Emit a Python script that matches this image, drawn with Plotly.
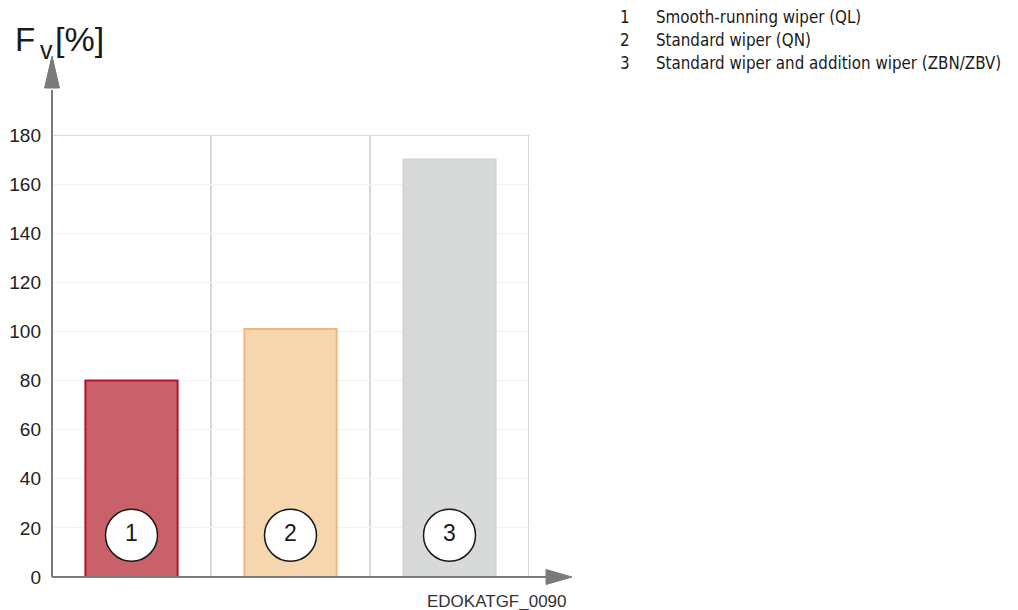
import plotly.graph_objects as go

# ---- data ----
categories = ["1", "2", "3"]
values = [80, 101, 170]
legend_numbers = ["1", "2", "3"]
legend_texts = [
    "Smooth-running wiper (QL)",
    "Standard wiper (QN)",
    "Standard wiper and addition wiper (ZBN/ZBV)",
]
y_ticks = [0, 20, 40, 60, 80, 100, 120, 140, 160, 180]

# ---- styles ----
fill_colors = ["#c9616a", "#f6d6ae", "#d8d9d9"]
line_colors = ["#b5122e", "#f0b878", "#d2d3d3"]
x_pos = list(range(len(categories)))
LABEL_Y = 17

OFF = 8  # page body margin
W, H = 1018 - OFF, 610 - OFF
# reference pixel positions of the plot area
RL, RR, RT, RB = 52, 529, 135, 577
L, T = RL - OFF, RT - OFF
R = W - (RR - OFF)
B = H - (RB - OFF)
PW = RR - RL
PH = RB - RT


def px(x):
    return (x - RL) / PW


def py(y):
    return (RB - y) / PH


fig = go.Figure()

fig.add_trace(go.Bar(
    x=x_pos, y=values, width=0.58,
    marker=dict(color=fill_colors, line=dict(color=line_colors, width=2)),
    hoverinfo="skip",
))

fig.add_trace(go.Scatter(
    x=x_pos, y=[LABEL_Y] * len(x_pos), mode="markers+text",
    text=categories, textposition="middle center",
    textfont=dict(family="Liberation Sans, Arial, sans-serif", size=23, color="#1a1a1a"),
    marker=dict(size=52, color="white", line=dict(color="#1a1a1a", width=1.5)),
    hoverinfo="skip", cliponaxis=False,
))

shapes = []
for xv in [0.5, 1.5, 2.5]:
    shapes.append(dict(type="line", xref="x", yref="y", x0=xv, x1=xv, y0=0, y1=180,
                       line=dict(color="#cbcbcb", width=1.5), layer="below"))
shapes.append(dict(type="line", xref="x", yref="y", x0=-0.5, x1=2.5, y0=180, y1=180,
                   line=dict(color="#d0d0d0", width=1.5), layer="below"))

axis_col = "#7a7a7a"
shapes.append(dict(type="line", xref="paper", yref="paper", x0=0, x1=0, y0=0, y1=py(90),
                   line=dict(color=axis_col, width=2)))
shapes.append(dict(type="path", xref="paper", yref="paper",
                   path=f"M {px(44.5)} {py(88)} L {px(59.5)} {py(88)} L {px(52)} {py(56)} Z",
                   fillcolor=axis_col, line=dict(color=axis_col, width=1)))
shapes.append(dict(type="line", xref="paper", yref="paper", x0=0, x1=px(552), y0=0, y1=0,
                   line=dict(color=axis_col, width=2)))
shapes.append(dict(type="path", xref="paper", yref="paper",
                   path=f"M {px(546)} {py(569.5)} L {px(546)} {py(584.5)} L {px(572)} {py(577)} Z",
                   fillcolor=axis_col, line=dict(color=axis_col, width=1)))

annotations = []
lab_font = "Liberation Sans, Arial, sans-serif"
# axis title F_v[%] built from three pieces
annotations.append(dict(
    xref="paper", yref="paper", x=px(13), y=py(39), xanchor="left", yanchor="middle",
    text="F", showarrow=False, font=dict(family=lab_font, size=33, color="#1a1a1a"),
))
annotations.append(dict(
    xref="paper", yref="paper", x=px(38), y=py(50), xanchor="left", yanchor="middle",
    text="v", showarrow=False, font=dict(family=lab_font, size=25, color="#1a1a1a"),
))
annotations.append(dict(
    xref="paper", yref="paper", x=px(53), y=py(39), xanchor="left", yanchor="middle",
    text="[%]", showarrow=False, font=dict(family=lab_font, size=34, color="#1a1a1a"),
))
annotations.append(dict(
    xref="paper", yref="paper", x=px(569), y=py(601), xanchor="right", yanchor="middle",
    text="EDOKATGF_0090", showarrow=False,
    font=dict(family=lab_font, size=17, color="#333333"),
))
leg_font = dict(family="DejaVu Sans Condensed, sans-serif", size=16.8, color="#1a1a1a")
for i, (n, t) in enumerate(zip(legend_numbers, legend_texts)):
    yc = 17 + 23 * i
    annotations.append(dict(xref="paper", yref="paper", x=px(618), y=py(yc), xanchor="left",
                            yanchor="middle", text=n, showarrow=False, font=leg_font))
    annotations.append(dict(xref="paper", yref="paper", x=px(654), y=py(yc), xanchor="left",
                            yanchor="middle", text=t, showarrow=False, font=leg_font))

fig.update_layout(
    width=W, height=H,
    margin=dict(l=L, r=R, t=T, b=B, pad=0, autoexpand=False),
    paper_bgcolor="white", plot_bgcolor="white",
    showlegend=False,
    shapes=shapes, annotations=annotations,
    xaxis=dict(range=[-0.5, 2.5], showgrid=False, zeroline=False, showticklabels=False,
               ticks="", showline=False, fixedrange=True, automargin=False),
    yaxis=dict(range=[0, 180], tickvals=y_ticks, showgrid=True, gridcolor="#f2f2f2",
               gridwidth=1, zeroline=False, showline=False, ticks="",
               ticklabelstandoff=10, automargin=False,
               tickfont=dict(family=lab_font, size=19, color="#222222"),
               fixedrange=True),
)

fig.write_html("out.html")
